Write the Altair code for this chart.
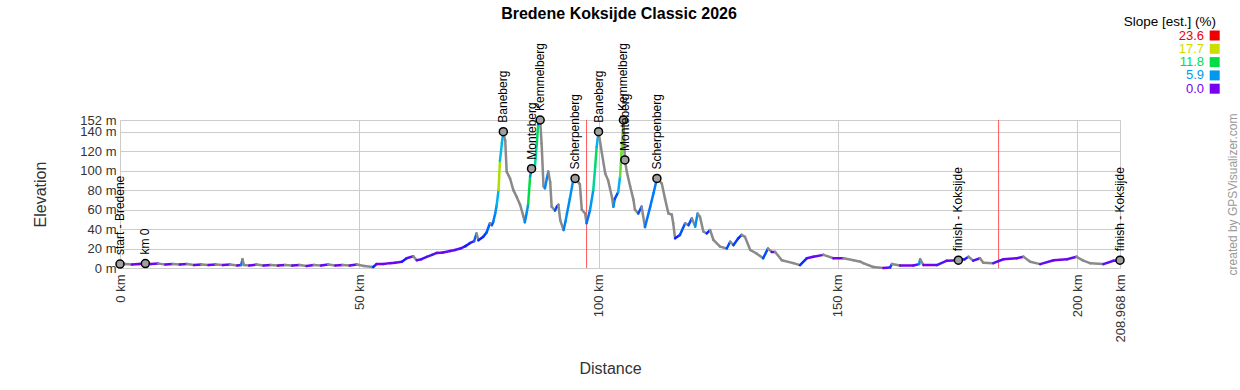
import altair as alt
import pandas as pd

# ---------------- data ----------------
dist_km = [0.0, 1.0, 2.5, 4.0, 5.3, 6.5, 8.0, 9.5, 11.0, 12.5, 14.0, 15.5, 17.0, 18.5, 20.0,
           21.5, 23.0, 24.5, 25.3, 25.6, 25.9, 27.0, 28.5, 30.0, 31.5, 33.0, 34.5, 36.0, 37.5,
           39.0, 40.5, 42.0, 43.5, 45.0, 46.5, 48.0, 49.5, 51.0, 52.9, 53.6, 55.0, 56.4, 57.5,
           58.9, 59.9, 61.3, 62.0, 63.0, 64.1, 65.2, 66.2, 67.5, 69.0, 70.0, 71.1, 72.2, 73.1,
           74.0, 74.5, 74.9, 75.9, 76.6, 77.3, 77.7, 78.0, 78.4, 78.7, 79.1, 79.4, 79.8, 80.1,
           80.5, 80.8, 81.2, 81.5, 82.2, 82.9, 83.6, 84.3, 84.6, 85.0, 85.3, 85.7, 86.0, 86.4,
           86.7, 87.1, 87.4, 87.8, 88.1, 88.5, 88.8, 89.2, 89.5, 89.9, 90.2, 90.9, 91.3, 91.6,
           92.0, 92.7, 93.1, 93.4, 94.0, 94.7, 95.1, 95.8, 96.1, 96.5, 97.2, 97.5, 98.2, 98.9,
           99.3, 99.6, 100.0, 100.7, 101.4, 102.0, 102.8, 103.1, 103.4, 104.1, 104.5, 104.8,
           105.2, 105.5, 105.9, 106.6, 107.3, 107.6, 108.3, 109.0, 109.7, 110.8, 111.5, 112.2,
           113.2, 113.9, 114.6, 115.3, 115.6, 116.0, 117.0, 118.1, 118.8, 119.5, 120.2, 120.7,
           121.2, 121.9, 122.6, 123.3, 124.0, 125.4, 126.8, 127.5, 128.2, 129.2, 129.9, 130.6,
           131.7, 133.0, 134.4, 135.4, 136.2, 136.9, 138.3, 140.7, 142.1, 143.5, 144.9, 147.0,
           149.1, 151.2, 153.3, 154.7, 155.3, 157.4, 159.5, 160.9, 161.3, 163.0, 165.8, 167.0,
           167.2, 167.9, 170.7, 172.8, 175.2, 176.5, 177.3, 178.3, 179.7, 180.4, 182.5, 184.6,
           187.4, 188.8, 190.2, 192.3, 195.1, 197.9, 199.9, 201.3, 202.7, 205.5, 207.6, 208.968]
elev_m = [4, 4, 3.5, 4, 4.5, 4, 4.5, 3.5, 4, 3.5, 4, 3, 3.5, 3, 3.5,
          3, 3.5, 2.5, 3, 9, 3, 2.5, 3.5, 2.5, 3, 2.5, 3, 2.5, 3,
          2, 3, 2.5, 3.5, 2.5, 3, 2.5, 3.5, 2, 1, 4, 4, 5, 5.5,
          6.5, 10, 12, 8, 9, 11.5, 13.5, 15.5, 16, 17.5, 18.5, 20, 22.5, 25.5,
          27.5, 35.5, 28.5, 32, 36.5, 46, 44, 47.5, 56, 64, 80, 110, 128, 140,
          131, 99, 95, 92, 80, 73, 65, 53, 47, 57, 66, 94, 102, 100,
          104, 128, 148, 152, 128, 84, 82, 92, 99, 88, 63, 59, 63, 65,
          49, 39, 48, 56, 71, 90, 92, 88, 86, 60, 56, 46, 59, 80,
          104, 124, 140, 118, 97, 90, 73, 63, 71, 78, 94, 118,
          152, 111, 99, 84, 70, 60, 56, 63, 42, 63, 77, 92,
          87, 71, 56, 55, 46, 30.5, 34, 46, 44, 51, 42.5, 56,
          52.5, 37.5, 35.5, 39, 29, 22, 20, 27, 23.5, 30.5, 34, 32,
          18.5, 15, 10, 20, 16.5, 16.5, 8, 5, 3, 10, 11.5, 13.5,
          10, 10, 8, 6.5, 5, 1, 0, 0.5, 4, 2.5, 2.5, 4,
          9, 3, 3, 7.5, 8, 9, 11.5, 7.5, 10, 5.5, 5, 9,
          10, 11.5, 6.5, 4, 8, 9, 11.5, 7.5, 5, 4, 7.5, 8]

wp_names = ["start - Bredene", "km 0", "Baneberg", "Monteberg", "Kemmelberg", "Scherpenberg",
            "Baneberg", "Kemmelberg", "Monteberg", "Scherpenberg", "finish - Koksijde",
            "finish - Koksijde"]
wp_km = [0.0, 5.3, 80.1, 86.0, 87.8, 95.1, 100.0, 105.2, 105.5, 112.2, 175.2, 208.968]
wp_elev = [4, 4.5, 140, 102, 152, 92, 140, 152, 111, 92, 8, 8]

lap_km = [97.5, 183.6]

x_ticks = [0, 50, 100, 150, 200, 208.968]
y_ticks = [0, 20, 40, 60, 80, 100, 120, 140, 152]

title_text = "Bredene Koksijde Classic 2026"
legend_title = "Slope [est.] (%)"
legend_labels = ["23.6", "17.7", "11.8", "5.9", "0.0"]
legend_colors = ["#ee0000", "#ccdd00", "#00dd44", "#0099ee", "#7700ee"]
credit_text = "created by GPSVisualizer.com"

FONT = "Liberation Sans"
W, H = 1000, 148

# ---------------- tables ----------------
seg = pd.DataFrame({
    "x": dist_km[:-1], "x2": dist_km[1:],
    "y": elev_m[:-1], "y2": elev_m[1:],
})
seg["slope"] = (seg["y2"] - seg["y"]) / ((seg["x2"] - seg["x"]) * 1000.0) * 100.0

wp = pd.DataFrame({"name": wp_names, "km": wp_km, "elev": wp_elev})
laps = pd.DataFrame({"km": lap_km})

xscale = alt.Scale(domain=[0, 208.968], nice=False, zero=False)
yscale = alt.Scale(domain=[0, 152], nice=False)

xaxis = alt.Axis(values=x_ticks, tickCount=30, labelExpr="datum.value + ' km'", labelAngle=270,
                 labelFontSize=13, labelColor="#333", labelPadding=6, labelFlush=False,
                 labelOverlap=False, ticks=False, domain=False, grid=True,
                 gridColor="#cccccc", title="Distance", titleFontSize=16,
                 titleFontWeight="normal", titleColor="#333", titleX=490, titleY=100,
                 titleBaseline="middle", titleAlign="center")
yaxis = alt.Axis(values=y_ticks, tickCount=20, labelExpr="datum.value + ' m'", labelFontSize=13,
                 labelColor="#333", labelPadding=4, labelFlush=False, labelOverlap=False,
                 ticks=False, domain=False, grid=True, gridColor="#cccccc",
                 title="Elevation", titleFontSize=16, titleFontWeight="normal",
                 titleColor="#333", titleX=-80, titleY=74, titleAngle=270,
                 titleBaseline="middle", titleAlign="center")

lap_layer = alt.Chart(laps).mark_rule(color="#ff5555", strokeWidth=1).encode(
    x=alt.X("km:Q", scale=xscale, axis=xaxis)
)

slope_scale = alt.Scale(domain=[0, 0.3, 3, 7, 11, 15],
                        range=["#7700ee", "#1a1aff", "#0099ee", "#00dd44", "#ccdd00", "#ee0000"],
                        clamp=True)

profile = alt.Chart(seg).mark_rule(strokeWidth=2.5, strokeCap="round").encode(
    x=alt.X("x:Q", scale=xscale, axis=xaxis),
    x2="x2:Q",
    y=alt.Y("y:Q", scale=yscale, axis=yaxis),
    y2="y2:Q",
    color=alt.condition("datum.slope < 0", alt.value("#8a8a8a"),
                        alt.Color("slope:Q", scale=slope_scale, legend=None)),
)

points = alt.Chart(wp).mark_point(shape="circle", size=64, fill="#a0a0a0", fillOpacity=1,
                                  stroke="black", strokeWidth=1.5, opacity=1).encode(
    x=alt.X("km:Q", scale=xscale, axis=xaxis), y=alt.Y("elev:Q", scale=yscale, axis=yaxis)
)

labels = alt.Chart(wp).mark_text(angle=270, align="left", baseline="middle", dx=9,
                                 fontSize=12, font=FONT, color="black").encode(
    x=alt.X("km:Q", scale=xscale, axis=xaxis), y=alt.Y("elev:Q", scale=yscale, axis=yaxis),
    text="name:N"
)

one = pd.DataFrame({"t": [0]})

def fixed_text(txt, x, y, **kw):
    return alt.Chart(one).mark_text(text=txt, font=FONT, **kw).encode(
        x=alt.value(x), y=alt.value(y))

extras = [
    fixed_text(title_text, 499, -106, fontSize=16, fontWeight="bold", color="black",
               align="center", baseline="middle"),
    fixed_text(legend_title, 1096, -98.5, fontSize=13.5, color="black",
               align="right", baseline="middle"),
    fixed_text(credit_text, 1113, 74.5, fontSize=12, color="#999999", angle=270,
               align="center", baseline="middle"),
]
for i, (lab, col) in enumerate(zip(legend_labels, legend_colors)):
    yy = -84.5 + i * 13.3
    extras.append(fixed_text(lab, 1084, yy, fontSize=13, color=col,
                             align="right", baseline="middle"))
    extras.append(alt.Chart(one).mark_square(size=100, color=col, opacity=1).encode(
        x=alt.value(1094.7), y=alt.value(yy)))

chart = alt.layer(lap_layer, profile, points, labels, *extras).properties(
    width=W, height=H,
    autosize=alt.AutoSizeParams(type="none"),
    padding={"left": 120, "top": 120, "right": 120, "bottom": 122},
).configure_view(stroke=None).configure(font=FONT, background="white")

chart.save("out.html", embed_options={"renderer": "svg", "actions": False})
